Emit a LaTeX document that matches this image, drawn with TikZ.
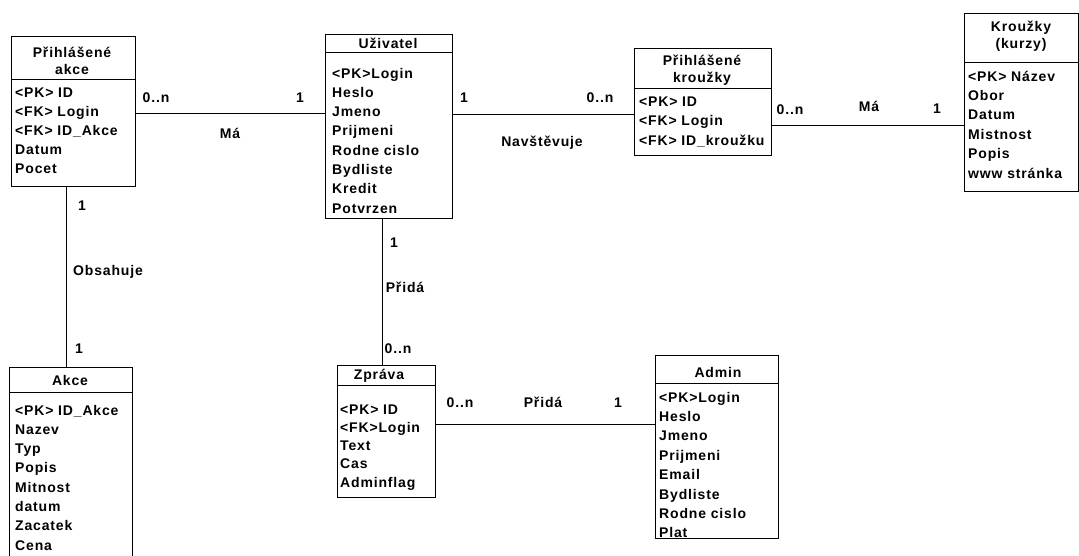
\documentclass[tikz,border=0pt]{standalone}
\usepackage{fontspec}
\setmainfont{Liberation Sans}[LetterSpace=6]
\usetikzlibrary{calc}
\tikzset{
  ebox/.style={draw, line width=1pt, anchor=north west, inner sep=0pt, outer sep=0pt},
  efont/.style={font=\bfseries\fontsize{14}{17}\selectfont},
  etext/.style={efont, inner sep=0pt, anchor=base west, yshift=-5pt},
  ehead/.style={efont, inner sep=0pt, align=center},
  elabel/.style={efont, inner sep=0pt, anchor=base, yshift=-5pt},
  conn/.style={line width=1pt},
}
\begin{document}
\begin{tikzpicture}[x=1pt,y=-1pt]
\fill[white] (0,0) rectangle (1079,555);
\useasboundingbox (0,0) rectangle (1079,555);
\begin{scope}
\clip (0,0) rectangle (1079,555);

% Prihlasene akce
\node[ebox, minimum width=124pt, minimum height=150pt] (pakce) at (11,36) {};
\draw[conn] (pakce.west |- 0,79) -- (pakce.east |- 0,79);
\node[ehead] (pakce-h) at (72,61) {Přihlášené\\akce};
\foreach \a [count=\i] in {<PK> ID,<FK> Login,<FK> ID\_Akce,Datum,Pocet}
  \node[etext] (pakce-\i) at ({15},{92+(\i-1)*19}) {\a};

% Uzivatel
\node[ebox, minimum width=127pt, minimum height=184pt] (uziv) at (325,34) {};
\draw[conn] (uziv.west |- 0,52) -- (uziv.east |- 0,52);
\node[ehead] (uziv-h) at (388,43) {Uživatel};
\foreach \a [count=\i] in {<PK>Login,Heslo,Jmeno,Prijmeni,Rodne cislo,Bydliste,Kredit,Potvrzen}
  \node[etext] (uziv-\i) at ({332},{73+(\i-1)*19.3}) {\a};

% Prihlasene krouzky
\node[ebox, minimum width=137pt, minimum height=107pt] (pkr) at (634,48) {};
\draw[conn] (pkr.west |- 0,88) -- (pkr.east |- 0,88);
\node[ehead] (pkr-h) at (702,70) {Přihlášené\\kroužky};
\foreach \a [count=\i] in {<PK> ID,<FK> Login,<FK> ID\_kroužku}
  \node[etext] (pkr-\i) at ({639},{101+(\i-1)*19.5}) {\a};

% Krouzky
\node[ebox, minimum width=114pt, minimum height=178pt] (kr) at (964,13) {};
\draw[conn] (kr.west |- 0,62) -- (kr.east |- 0,62);
\node[ehead] (kr-h) at (1021,36) {Kroužky\\(kurzy)};
\foreach \a [count=\i] in {<PK> Název,Obor,Datum,Mistnost,Popis,www stránka}
  \node[etext] (kr-\i) at ({968},{76+(\i-1)*19.4}) {\a};

% Akce
\node[ebox, minimum width=123pt, minimum height=193pt] (akce) at (9,367) {};
\draw[conn] (akce.west |- 0,392) -- (akce.east |- 0,392);
\node[ehead] (akce-h) at (70,380) {Akce};
\foreach \a [count=\i] in {<PK> ID\_Akce,Nazev,Typ,Popis,Mitnost,datum,Zacatek,Cena}
  \node[etext] (akce-\i) at ({15},{410+(\i-1)*19.3}) {\a};

% Zprava
\node[ebox, minimum width=98pt, minimum height=132pt] (zpr) at (337,365) {};
\draw[conn] (zpr.west |- 0,385) -- (zpr.east |- 0,385);
\node[ehead] (zpr-h) at (379,376) {Zpráva};
\foreach \a [count=\i] in {<PK> ID,<FK>Login,Text,Cas,Adminflag}
  \node[etext] (zpr-\i) at ({340},{409+(\i-1)*18.3}) {\a};

% Admin
\node[ebox, minimum width=123pt, minimum height=183pt] (adm) at (655,355) {};
\draw[conn] (adm.west |- 0,383) -- (adm.east |- 0,383);
\node[ehead] (adm-h) at (718,372) {Admin};
\foreach \a [count=\i] in {<PK>Login,Heslo,Jmeno,Prijmeni,Email,Bydliste,Rodne cislo,Plat}
  \node[etext] (adm-\i) at ({659},{397+(\i-1)*19.4}) {\a};

% connectors
\coordinate (r1) at (0,113);
\coordinate (r2) at (0,114);
\coordinate (r3) at (0,125);
\coordinate (r4) at (0,424);
\coordinate (c1) at (66,0);
\coordinate (c2) at (382,0);
\draw[conn] (pakce.east |- r1) -- (uziv.west |- r1);
\draw[conn] (uziv.east |- r2) -- (pkr.west |- r2);
\draw[conn] (pkr.east |- r3) -- (kr.west |- r3);
\draw[conn] (zpr.east |- r4) -- (adm.west |- r4);
\draw[conn] (pakce.south -| c1) -- (akce.north -| c1);
\draw[conn] (uziv.south -| c2) -- (zpr.north -| c2);

% labels
\node[elabel] (l1) at (156,97) {0..n};
\node[elabel] (l2) at (300,97) {1};
\node[elabel] (l3) at (230,133) {Má};
\node[elabel] (l4) at (464,97) {1};
\node[elabel] (l5) at (600,97) {0..n};
\node[elabel] (l6) at (542,141) {Navštěvuje};
\node[elabel] (l7) at (790,109) {0..n};
\node[elabel] (l8) at (869,106) {Má};
\node[elabel] (l9) at (937,108) {1};
\node[elabel] (l10) at (82,205) {1};
\node[elabel] (l11) at (108,270) {Obsahuje};
\node[elabel] (l12) at (79,348) {1};
\node[elabel] (l13) at (394,242) {1};
\node[elabel] (l14) at (405,287) {Přidá};
\node[elabel] (l15) at (398,348) {0..n};
\node[elabel] (l16) at (460,402) {0..n};
\node[elabel] (l17) at (543,402) {Přidá};
\node[elabel] (l18) at (618,402) {1};
\end{scope}
\end{tikzpicture}
\end{document}
